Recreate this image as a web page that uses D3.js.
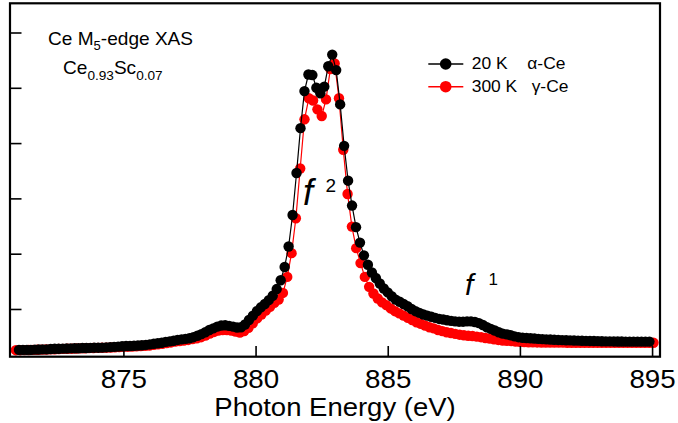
<!DOCTYPE html>
<html><head><meta charset="utf-8">
<script src="https://cdn.jsdelivr.net/npm/d3@7"></script>
<style>body{margin:0;background:#fff}svg{display:block}text{font-family:"Liberation Sans",Arial,sans-serif}</style>
</head><body><svg id="c" width="678" height="423"></svg>
<script>
// ---- data ----
const blackStart = 871.05, blackStep = 0.15;   // 20 K alpha-Ce energy grid (eV)
const redStart = 870.93, redStep = 0.163;      // 300 K gamma-Ce energy grid (eV)
const black20K = [
0.26,0.26,0.26,0.26,0.265,0.267,0.27,0.27,0.275,0.28,
0.28,0.283,0.285,0.287,0.29,0.29,0.293,0.295,0.297,0.30,
0.30,0.302,0.305,0.31,0.315,0.32,0.325,0.33,0.33,0.335,
0.34,0.345,0.35,0.36,0.37,0.38,0.39,0.405,0.415,0.425,
0.44,0.45,0.46,0.47,0.49,0.515,0.545,0.58,0.62,0.65,
0.68,0.70,0.705,0.695,0.68,0.665,0.67,0.72,0.80,0.88,
0.96,1.03,1.09,1.16,1.24,1.36,1.52,1.76,2.13,2.70,
3.46,4.27,4.94,5.24,5.23,5.00,4.90,5.02,5.39,5.60,
5.32,4.70,3.95,3.32,2.87,2.48,2.20,1.97,1.80,1.66,
1.56,1.46,1.37,1.30,1.23,1.17,1.13,1.09,1.05,1.00,
0.96,0.93,0.90,0.88,0.86,0.84,0.82,0.81,0.795,0.785,
0.775,0.77,0.77,0.775,0.775,0.765,0.745,0.71,0.67,0.64,
0.61,0.58,0.555,0.54,0.525,0.505,0.49,0.48,0.475,0.47,
0.465,0.46,0.455,0.45,0.447,0.444,0.44,0.437,0.434,0.432,
0.43,0.428,0.426,0.424,0.422,0.42,0.418,0.416,0.415,0.414,
0.413,0.412,0.411,0.41,0.41,0.41,0.41,0.41,0.41,0.41];
const red300K = [
0.255,0.255,0.256,0.257,0.26,0.262,0.265,0.267,0.27,0.272,
0.275,0.278,0.28,0.282,0.285,0.287,0.29,0.292,0.294,0.296,
0.298,0.30,0.303,0.307,0.31,0.315,0.318,0.32,0.325,0.33,
0.335,0.34,0.35,0.36,0.37,0.385,0.395,0.41,0.42,0.43,
0.44,0.455,0.47,0.49,0.52,0.555,0.585,0.61,0.62,0.62,
0.61,0.59,0.575,0.60,0.66,0.74,0.83,0.90,0.97,1.04,
1.11,1.17,1.29,1.58,2.01,2.64,3.54,4.43,4.81,4.77,
4.61,4.49,4.79,5.34,5.44,4.81,3.88,3.08,2.49,2.10,
1.83,1.58,1.40,1.28,1.19,1.12,1.07,1.01,0.96,0.92,
0.88,0.84,0.80,0.76,0.73,0.70,0.67,0.65,0.62,0.60,
0.58,0.565,0.55,0.535,0.525,0.515,0.51,0.50,0.49,0.475,
0.465,0.45,0.44,0.43,0.425,0.42,0.41,0.405,0.40,0.398,
0.396,0.395,0.394,0.393,0.392,0.392,0.391,0.391,0.39,0.39,
0.39,0.39,0.39,0.39,0.39,0.39,0.39,0.39,0.39,0.39,
0.39,0.39,0.39,0.39,0.39,0.39,0.39,0.39,0.39];
const xTicks = [875, 880, 885, 890, 895];
const yTicks = [1, 2, 3, 4, 5, 6];
const legendLabels = [["20 K", "\u03b1-Ce"], ["300 K", "\u03b3-Ce"]];
const seriesColors = ["#000000", "#ff0000"];

// ---- chart ----
const svg = d3.select("#c");
const L = 10, R = 660, T = 3.3, B = 356.7;
const x = d3.scaleLinear().domain([870.71, 895.30]).range([L, R]);
const y = d3.scaleLinear().domain([0.137, 6.528]).range([B, T]);
const SX = 1.09;

const blackData = black20K.map((v, i) => [blackStart + blackStep * i, v]);
const redData = red300K.map((v, i) => [redStart + redStep * i, v]);
const line = d3.line().x(d => x(d[0])).y(d => y(d[1]));

function drawSeries(data, color) {
  const g = svg.append("g");
  g.append("path").attr("d", line(data)).attr("fill", "none")
    .attr("stroke", color).attr("stroke-width", 1.2);
  g.selectAll("circle").data(data).join("circle")
    .attr("cx", d => x(d[0])).attr("cy", d => y(d[1])).attr("r", 5.2)
    .attr("fill", color);
}
drawSeries(redData, seriesColors[1]);
drawSeries(blackData, seriesColors[0]);

// axes
const xa = svg.append("g").attr("transform", `translate(0,${B})`)
  .call(d3.axisBottom(x).tickValues(xTicks).tickSize(-10.7).tickPadding(13.5).tickFormat(d3.format("d")));
xa.select(".domain").remove();
xa.selectAll("line").attr("stroke", "#000").attr("stroke-width", 1.6);
xa.selectAll("text").attr("font-size", 25).attr("fill", "#000")
  .attr("font-family", "Liberation Sans, Arial, sans-serif")
  .attr("transform", `scale(${SX + 0.02},1)`);

const ya = svg.append("g").attr("transform", `translate(${L},0)`)
  .call(d3.axisLeft(y).tickValues(yTicks).tickSize(-11.5).tickFormat(""));
ya.select(".domain").remove();
ya.selectAll("line").attr("stroke", "#000").attr("stroke-width", 1.6);

svg.append("rect").attr("x", L).attr("y", T).attr("width", R - L).attr("height", B - T)
  .attr("fill", "none").attr("stroke", "#000").attr("stroke-width", 2.2);

// axis title
svg.append("text").attr("transform", `translate(335,415.5) scale(1.1,1)`)
  .attr("text-anchor", "middle").attr("font-size", 25).text("Photon Energy (eV)");

// sample annotation
function stretched(tx, ty) { return svg.append("text").attr("transform", `translate(${tx},${ty}) scale(${SX},1)`); }
const t1 = stretched(48, 45).attr("font-size", 17.5);
t1.append("tspan").text("Ce M");
t1.append("tspan").attr("font-size", 12).attr("dy", 5).text("5");
t1.append("tspan").attr("dy", -5).text("-edge XAS");
const t2 = stretched(63, 74).attr("font-size", 17.5);
t2.append("tspan").text("Ce");
t2.append("tspan").attr("font-size", 12.5).attr("dy", 5.5).text("0.93");
t2.append("tspan").attr("dy", -5.5).text("Sc");
t2.append("tspan").attr("font-size", 12.5).attr("dy", 5.5).text("0.07");

// legend
const legY = [64, 86.7], legBase = [69.3, 91.7];
legendLabels.forEach((lab, i) => {
  svg.append("line").attr("x1", 428.3).attr("x2", 463.3).attr("y1", legY[i]).attr("y2", legY[i])
    .attr("stroke", seriesColors[i]).attr("stroke-width", 1.4);
  svg.append("circle").attr("cx", 445.7).attr("cy", legY[i]).attr("r", 5.8).attr("fill", seriesColors[i]);
  const t = stretched(471.7, legBase[i]).attr("font-size", 16);
  t.append("tspan").attr("x", 0).text(lab[0]);
  t.append("tspan").attr("x", i === 0 ? 51 : 55).text(lab[1]);
});

// f labels
function fLabel(fx, fy, fs, sup, sx, sy, ss) {
  svg.append("text").attr("x", fx).attr("y", fy).attr("font-size", fs)
    .attr("font-family", "DejaVu Serif, Liberation Serif, serif").attr("font-style", "italic").text("f");
  svg.append("text").attr("x", sx).attr("y", sy).attr("font-size", ss)
    .attr("font-family", "DejaVu Serif, Liberation Serif, serif").text(sup);
}
fLabel(303, 205, 36, "2", 325.5, 192, 19);
fLabel(465, 295, 30, "1", 488.5, 284.5, 17);
</script></body></html>
